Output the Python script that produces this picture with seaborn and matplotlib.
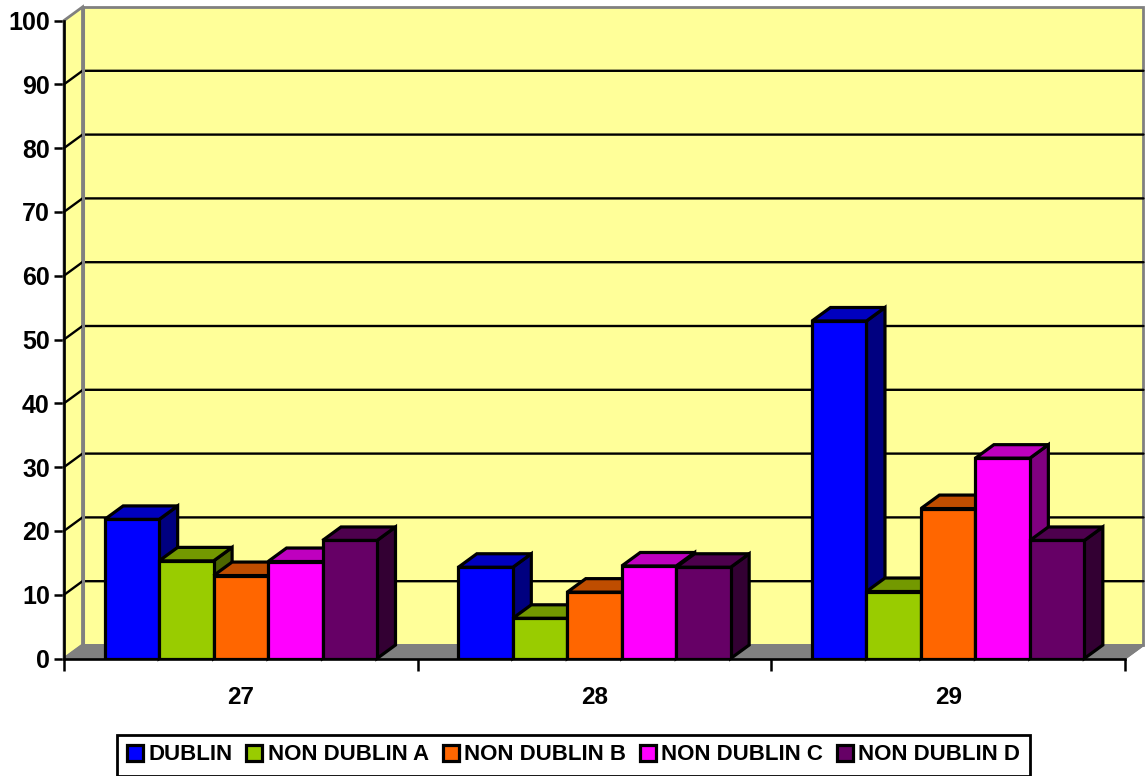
import matplotlib
matplotlib.use("Agg")
import matplotlib.pyplot as plt
from matplotlib.patches import Polygon
from matplotlib.colors import to_rgb
import pandas as pd
import seaborn as sns

groups = ["27", "28", "29"]
series_names = ["DUBLIN", "NON DUBLIN A", "NON DUBLIN B", "NON DUBLIN C", "NON DUBLIN D"]
dublin = [21.8, 14.3, 52.9]
non_dublin_a = [15.3, 6.3, 10.5]
non_dublin_b = [13.0, 10.4, 23.5]
non_dublin_c = [15.2, 14.5, 31.4]
non_dublin_d = [18.5, 14.3, 18.5]
colors = ["#0000FF", "#99CC00", "#FF6600", "#FF00FF", "#660066"]
y_ticks = list(range(0, 101, 10))

W, H = 1146, 776
LEFT, RIGHT, BASE, TOP = 64, 1125, 658.5, 20.5
DEPTH_X_PX, DEPTH_Y_PX = 18.5, 13.5
EDGE = 2.3

sns.set_theme(style="white")
plt.rcParams["font.family"] = ["Liberation Sans", "DejaVu Sans"]
plt.rcParams["font.weight"] = "bold"

rows = []
for name, vals in zip(series_names, [dublin, non_dublin_a, non_dublin_b, non_dublin_c, non_dublin_d]):
    for g, v in zip(groups, vals):
        rows.append({"group": g, "series": name, "value": v})
df = pd.DataFrame(rows)

fig = plt.figure(figsize=(W / 100, H / 100), dpi=100, facecolor="white")
ax = fig.add_axes([LEFT / W, 1 - BASE / H, (RIGHT - LEFT) / W, (BASE - TOP) / H])

sns.barplot(data=df, x="group", y="value", hue="series", hue_order=series_names,
            palette=colors, width=0.77, gap=0, saturation=1, errorbar=None,
            edgecolor="black", linewidth=EDGE, ax=ax)

ax.set_xlim(-0.5, 2.5)
ax.set_ylim(0, 100)
ax.patch.set_visible(False)
dx = 3 * DEPTH_X_PX / (RIGHT - LEFT)
dy = 100 * DEPTH_Y_PX / (BASE - TOP)
x0, x1 = -0.5, 2.5
GREY = "#808080"

# walls and floor
ax.add_patch(Polygon([(x0 + dx, dy), (x1 + dx, dy), (x1 + dx, 100 + dy), (x0 + dx, 100 + dy)],
                     closed=True, fc="#FFFF99", ec=GREY, lw=2.0, zorder=0.5, clip_on=False))
ax.add_patch(Polygon([(x0, 0), (x0 + dx, dy), (x0 + dx, 100 + dy), (x0, 100)],
                     closed=True, fc="#FFFF99", ec=GREY, lw=2.0, zorder=0.6, clip_on=False))
ax.add_patch(Polygon([(x0, 0), (x1, 0), (x1 + dx, dy), (x0 + dx, dy)],
                     closed=True, fc=GREY, ec=GREY, lw=1.4, zorder=0.7, clip_on=False))
for t in y_ticks[1:-1]:
    ax.plot([x0, x0 + dx, x1 + dx], [t, t + dy, t + dy], color="black", lw=1.7,
            zorder=0.8, clip_on=False, solid_joinstyle="miter")
ax.plot([x0 + dx, x0 + dx], [dy, 100 + dy], color=GREY, lw=2.2, zorder=0.85, clip_on=False)
ax.plot([x1, x1 + dx], [0, dy], color=GREY, lw=1.6, zorder=0.85, clip_on=False)


def shade(c, f):
    return tuple(v * f for v in to_rgb(c))


# depth faces built from the seaborn bars, painted left to right
bars = []
for cont, col in zip(ax.containers, colors):
    for b in cont:
        bars.append((b, col))
bars.sort(key=lambda p: p[0].get_x())
for i, (b, col) in enumerate(bars):
    l, r, h = b.get_x(), b.get_x() + b.get_width(), b.get_height()
    z = 3 + i
    ax.add_patch(Polygon([(r, 0), (r + dx, dy), (r + dx, h + dy), (r, h)], closed=True,
                         fc=shade(col, 0.5), ec="black", lw=EDGE, zorder=z,
                         joinstyle="miter", clip_on=False))
    ax.add_patch(Polygon([(l, h), (r, h), (r + dx, h + dy), (l + dx, h + dy)], closed=True,
                         fc=shade(col, 0.75), ec="black", lw=EDGE, zorder=z,
                         joinstyle="miter", clip_on=False))
    b.set_zorder(z + 0.5)
    b.set_joinstyle("miter")

for s in ["top", "right"]:
    ax.spines[s].set_visible(False)
for s in ["left", "bottom"]:
    ax.spines[s].set_color("black")
    ax.spines[s].set_linewidth(1.9)
    ax.spines[s].set_zorder(1)

ax.set_xlabel("")
ax.set_ylabel("")
ax.set_yticks(y_ticks)
ax.set_xticks([-0.5, 0.5, 1.5, 2.5], minor=True)
ax.tick_params(axis="x", which="minor", bottom=True, length=8.6, width=1.8, color="black")
ax.tick_params(axis="x", which="major", bottom=False, length=0, pad=20, labelsize=17.5, labelcolor="black")
ax.tick_params(axis="y", left=True, length=7.2, width=1.8, color="black", pad=3,
               labelsize=18, labelcolor="black")
for lab in ax.get_xticklabels() + ax.get_yticklabels():
    lab.set_fontweight("bold")

handles, labels = ax.get_legend_handles_labels()
leg = ax.legend(handles, labels, ncol=5, title=None, loc="center",
                bbox_to_anchor=(573.5 / W, 1 - 755 / H), bbox_transform=fig.transFigure,
                frameon=True, fancybox=False, edgecolor="black", facecolor="white", framealpha=1,
                prop={"family": "Liberation Sans", "weight": "bold", "size": 16},
                handlelength=0.72, handleheight=0.72, handletextpad=0.24,
                columnspacing=0.62, borderpad=0.45, borderaxespad=0)
leg.get_frame().set_linewidth(2.0)
leg.set_zorder(50)
for t in leg.get_texts():
    t.set_color("black")

fig.savefig("out.png", dpi=100, facecolor="white")
